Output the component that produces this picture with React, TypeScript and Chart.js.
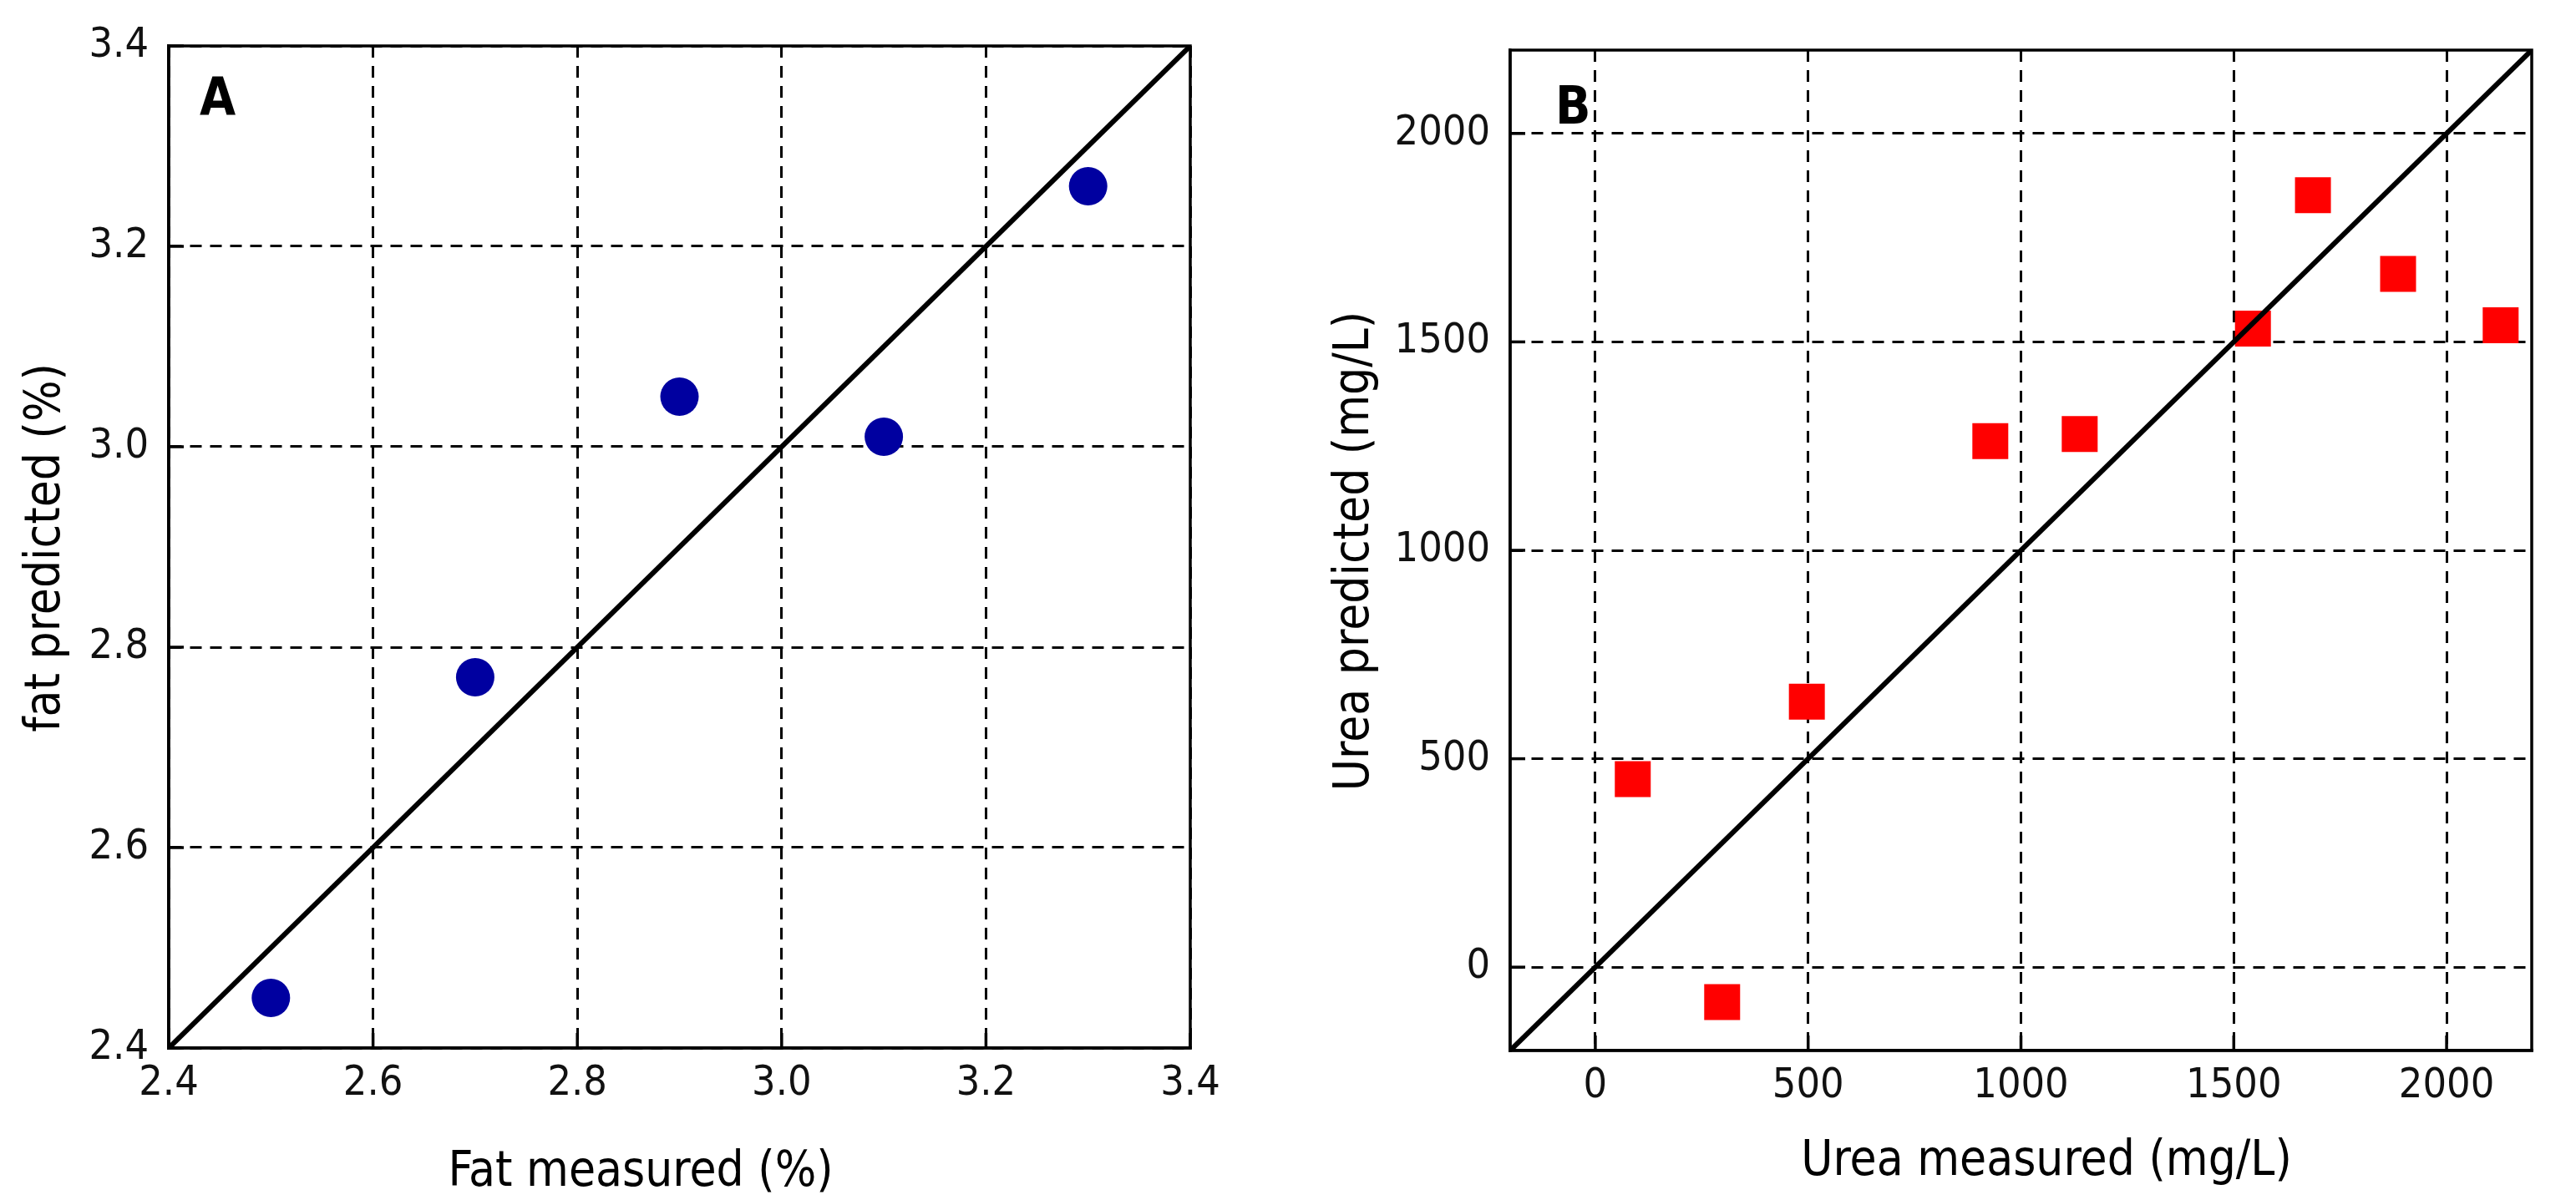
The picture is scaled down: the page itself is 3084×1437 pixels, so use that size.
import React, { useEffect, useRef } from "react";
import { Chart, registerables } from "chart.js";

Chart.register(...registerables);

// ---------- data ----------
const fatMeasured = [2.5, 2.7, 2.9, 3.1, 3.3];
const fatPredicted = [2.45, 2.77, 3.05, 3.01, 3.26];
const fatAxisRange = [2.4, 3.4];
const fatTicks = [2.4, 2.6, 2.8, 3.0, 3.2, 3.4];

const ureaMeasured = [88, 298, 497, 928, 1138, 1545, 1686, 1886, 2127];
const ureaPredicted = [451, -84, 637, 1262, 1279, 1532, 1852, 1663, 1540];
const ureaAxisRange = [-200, 2200];
const ureaTicks = [0, 500, 1000, 1500, 2000];

const panelLetters = ["A", "B"];
const xTitles = ["Fat measured (%)", "Urea measured (mg/L)"];
const yTitles = ["fat predicted (%)", "Urea predicted (mg/L)"];

// ---------- styling / layout ----------
const FONT = '"DejaVu Sans Condensed", "Open Sans", sans-serif';
const H = 1437;

const decorPlugin = {
  id: "decor",
  afterDraw(chart: any, _args: any, o: any) {
    const { ctx, chartArea: a, scales } = chart;
    ctx.save();
    ctx.setLineDash([]);
    ctx.strokeStyle = "#000";
    ctx.lineWidth = 3.5;
    ctx.strokeRect(a.left, a.top, a.right - a.left, a.bottom - a.top);
    // inward tick marks on bottom and left axes
    scales.x.ticks.forEach((t: any) => {
      const px = scales.x.getPixelForValue(t.value);
      ctx.beginPath();
      ctx.moveTo(px, a.bottom);
      ctx.lineTo(px, a.bottom - 18);
      ctx.stroke();
    });
    scales.y.ticks.forEach((t: any) => {
      const py = scales.y.getPixelForValue(t.value);
      ctx.beginPath();
      ctx.moveTo(a.left, py);
      ctx.lineTo(a.left + 18, py);
      ctx.stroke();
    });
    ctx.fillStyle = "#000";
    ctx.font = `58px ${FONT}`;
    ctx.textAlign = "center";
    ctx.textBaseline = "alphabetic";
    ctx.fillText(o.xTitle, o.xTitleX, o.xTitleY);
    ctx.save();
    ctx.translate(o.yTitleX, o.yTitleY);
    ctx.rotate(-Math.PI / 2);
    ctx.fillText(o.yTitle, 0, 0);
    ctx.restore();
    ctx.textAlign = "left";
    ctx.font = `bold 62px ${FONT}`;
    ctx.fillText(o.letter, o.letterX, o.letterY);
    ctx.restore();
  },
};

type PanelCfg = {
  canvasLeft: number;
  canvasW: number;
  area: { left: number; right: number; top: number; bottom: number };
  xs: number[];
  ys: number[];
  range: number[];
  ticks: number[];
  decimals: number;
  pointStyle: string;
  radius: number;
  color: string;
  letter: string;
  xTitle: string;
  yTitle: string;
  xTitleX: number;
  xTitleY: number;
  yTitleX: number;
  yTitleY: number;
  letterX: number;
  letterY: number;
};

const panels: PanelCfg[] = [
  {
    canvasLeft: 0,
    canvasW: 1540,
    area: { left: 202, right: 1425, top: 55, bottom: 1255 },
    xs: fatMeasured,
    ys: fatPredicted,
    range: fatAxisRange,
    ticks: fatTicks,
    decimals: 1,
    pointStyle: "circle",
    radius: 23,
    color: "#0000a0",
    letter: panelLetters[0],
    xTitle: xTitles[0],
    yTitle: yTitles[0],
    xTitleX: 767,
    xTitleY: 1420,
    yTitleX: 71,
    yTitleY: 656,
    letterX: 239,
    letterY: 137,
  },
  {
    canvasLeft: 1545,
    canvasW: 1539,
    area: { left: 263, right: 1486, top: 60, bottom: 1258 },
    xs: ureaMeasured,
    ys: ureaPredicted,
    range: ureaAxisRange,
    ticks: ureaTicks,
    decimals: 0,
    pointStyle: "rect",
    radius: 30.4,
    color: "#ff0000",
    letter: panelLetters[1],
    xTitle: xTitles[1],
    yTitle: yTitles[1],
    xTitleX: 905,
    xTitleY: 1407,
    yTitleX: 93,
    yTitleY: 660,
    letterX: 317,
    letterY: 148,
  },
];

function axisOptions(p: PanelCfg, isX: boolean) {
  return {
    type: "linear",
    position: isX ? "bottom" : "left",
    min: p.range[0],
    max: p.range[1],
    afterBuildTicks: (s: any) => {
      s.ticks = p.ticks.map((v) => ({ value: v }));
    },
    ticks: {
      autoSkip: false,
      color: "#111",
      font: { family: FONT, size: 50 },
      padding: isX ? 13 : 24,
      callback: (v: any) => Number(v).toFixed(p.decimals),
    },
    grid: { color: "#000", lineWidth: 3, drawTicks: false },
    border: { display: true, color: "#000", width: 3.5, dash: [14, 10] },
    afterFit: (s: any) => {
      if (isX) s.height = H - p.area.bottom;
      else s.width = p.area.left;
    },
  };
}

function buildConfig(p: PanelCfg): any {
  const points = p.xs.map((x, i) => ({ x, y: p.ys[i] }));
  return {
    type: "scatter",
    data: {
      datasets: [
        {
          data: [
            { x: p.range[0], y: p.range[0] },
            { x: p.range[1], y: p.range[1] },
          ],
          showLine: true,
          borderColor: "#000",
          borderWidth: 6,
          pointRadius: 0,
          fill: false,
        },
        {
          data: points,
          pointStyle: p.pointStyle,
          pointRadius: p.radius,
          pointHoverRadius: p.radius,
          backgroundColor: p.color,
          pointBorderWidth: 0,
          borderWidth: 0,
        },
      ],
    },
    options: {
      responsive: false,
      maintainAspectRatio: false,
      animation: false,
      devicePixelRatio: 1,
      layout: {
        padding: { left: 0, top: p.area.top, right: p.canvasW - p.area.right, bottom: 0 },
      },
      plugins: {
        legend: { display: false },
        tooltip: { enabled: false },
        decor: {
          xTitle: p.xTitle,
          yTitle: p.yTitle,
          xTitleX: p.xTitleX,
          xTitleY: p.xTitleY,
          yTitleX: p.yTitleX,
          yTitleY: p.yTitleY,
          letter: p.letter,
          letterX: p.letterX,
          letterY: p.letterY,
        },
      },
      scales: {
        x: axisOptions(p, true),
        y: axisOptions(p, false),
      },
    },
    plugins: [decorPlugin],
  };
}

function Panel({ p }: { p: PanelCfg }) {
  const ref = useRef<HTMLCanvasElement>(null);
  useEffect(() => {
    const chart = new Chart(ref.current as HTMLCanvasElement, buildConfig(p));
    return () => chart.destroy();
  }, [p]);
  return (
    <canvas
      ref={ref}
      width={p.canvasW}
      height={H}
      style={{ position: "absolute", left: p.canvasLeft, top: 0, width: p.canvasW, height: H }}
    />
  );
}

export default function App() {
  useEffect(() => {
    document.body.style.margin = "0";
    document.body.style.overflow = "hidden";
  }, []);
  return (
    <div style={{ position: "absolute", left: 0, top: 0, width: 3084, height: H, background: "#fff" }}>
      {panels.map((p, i) => (
        <Panel key={i} p={p} />
      ))}
    </div>
  );
}
